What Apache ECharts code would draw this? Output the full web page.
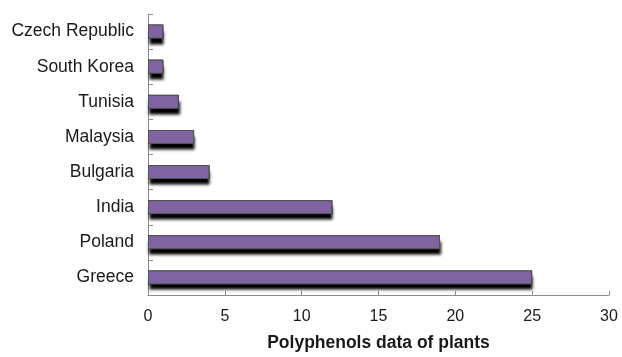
<!DOCTYPE html>
<html>
<head>
<meta charset="utf-8">
<script src="https://cdn.jsdelivr.net/npm/echarts@6/dist/echarts.min.js"></script>
<style>
  html, body { margin: 0; padding: 0; background: #fff; }
  #chart { width: 622px; height: 357px; }
</style>
</head>
<body>
<div id="chart"></div>
<script>
// Countries, listed bottom to top on the category axis
const countries = ['Greece', 'Poland', 'India', 'Bulgaria', 'Malaysia', 'Tunisia', 'South Korea', 'Czech Republic'];
// Number of polyphenol data entries per country
const counts = [25, 19, 12, 4, 3, 2, 1, 1];
// Value axis ticks
const xTicks = [0, 5, 10, 15, 20, 25, 30];

const chart = echarts.init(document.getElementById('chart'), null, { renderer: 'canvas' });

const FONT = 'Liberation Sans, Arial, sans-serif';
const BAR_W = 14;

chart.setOption({
  animation: false,
  backgroundColor: '#ffffff',
  grid: { left: 148, right: 13, top: 14, bottom: 57, containLabel: false },
  xAxis: {
    type: 'value',
    min: xTicks[0],
    max: xTicks[xTicks.length - 1],
    interval: xTicks[1] - xTicks[0],
    name: 'Polyphenols data of plants',
    nameLocation: 'middle',
    nameGap: 39,
    nameTextStyle: { fontFamily: FONT, fontSize: 17.5, fontWeight: 'bold', color: '#1a1a1a' },
    axisLine: { show: true, lineStyle: { color: '#8c8c8c', width: 1 } },
    axisTick: { show: true, inside: true, length: 4, lineStyle: { color: '#8c8c8c' } },
    axisLabel: { margin: 14, fontFamily: FONT, fontSize: 16, color: '#1a1a1a' },
    splitLine: { show: false }
  },
  yAxis: {
    type: 'category',
    data: countries,
    boundaryGap: true,
    axisLine: { show: true, lineStyle: { color: '#8c8c8c', width: 1 } },
    axisTick: { show: true, inside: true, length: 5, lineStyle: { color: '#8c8c8c' } },
    axisLabel: { margin: 14, fontFamily: FONT, fontSize: 17.5, color: '#1a1a1a', padding: [4, 0, 0, 0] }
  },
  series: [
    {
      // drop shadow underneath each bar
      type: 'bar',
      data: counts,
      barWidth: BAR_W,
      silent: true,
      itemStyle: {
        color: '#000000',
        borderWidth: 0,
        shadowColor: 'rgba(0,0,0,1)',
        shadowBlur: 3,
        shadowOffsetX: 1,
        shadowOffsetY: 6
      }
    },
    {
      // purple bar face with thin outline
      type: 'bar',
      data: counts,
      barWidth: BAR_W,
      barGap: '-100%',
      itemStyle: {
        color: '#8064a2',
        borderColor: '#555555',
        borderWidth: 1
      }
    }
  ]
});
</script>
</body>
</html>
